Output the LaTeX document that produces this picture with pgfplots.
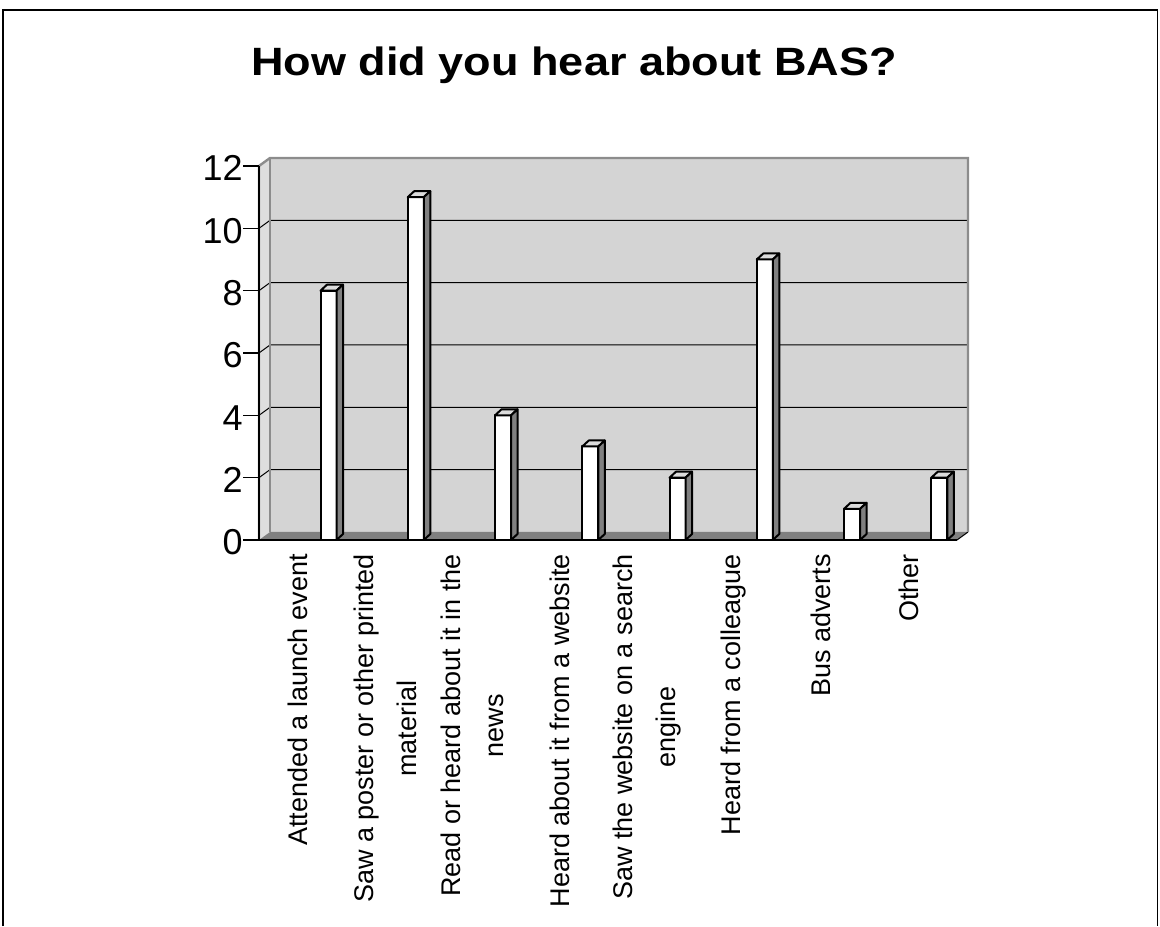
\documentclass[border=0pt]{standalone}
\usepackage{pgfplots}
\pgfplotsset{compat=1.18}
\usepackage{fontspec}
\setmainfont{Liberation Sans}

\definecolor{wallgray}{HTML}{D4D4D4}
\definecolor{sidewall}{HTML}{DEDEDE}
\definecolor{edgegray}{HTML}{8C8C8C}
\definecolor{floorgray}{HTML}{808080}
\definecolor{bartop}{HTML}{DCDCDC}
\definecolor{barside}{HTML}{808080}

\pgfdeclareplotmark{empty}{}

% depth offsets of the 3-D wall (px, 1px = 0.5bp)
\def\dX{5.5bp}
\def\dY{4bp}

\begin{document}
\begin{tikzpicture}[x=0.5bp,y=0.5bp]

% chart frame
\draw[line width=0.75bp] (3,0) -- (3,916) -- (1157.5,916) -- (1157.5,0);

% title
\node[anchor=base, font=\bfseries\fontsize{19.75bp}{22bp}\selectfont]
  at (574,850) {\scalebox{1.14}[1]{How did you hear about BAS?}};

\begin{axis}[
  set layers,
  at={(129.5bp,193bp)}, anchor=south west,
  scale only axis, width=349bp, height=187bp,
  xmin=0.5, xmax=8.5, ymin=0, ymax=12,
  clip=false,
  axis x line*=bottom, axis y line*=left,
  axis line style={black, line width=0.6bp},
  tick align=outside,
  major tick length=8bp, minor tick length=5bp,
  tick style={black, line width=0.6bp},
  ytick={0,2,...,12},
  yticklabel style={font=\fontsize{18bp}{18bp}\selectfont, anchor=east, inner sep=0pt, yshift=-1.2bp},
  /pgf/number format/assume math mode=true,
  xtick=\empty,
  minor xtick={0.5,1.5,...,8.5},
  extra x ticks={1,2,3,4,5,6,7,8},
  extra x tick labels={
    Attended a launch event,
    {Saw a poster or other printed\\material},
    {Read or heard about it in the\\news},
    Heard about it from a website,
    {Saw the website on a search\\engine},
    Heard from a colleague,
    Bus adverts,
    Other},
  extra x tick style={tick style={draw=none}},
  xticklabel style={font=\fontsize{13.5bp}{21.5bp}\selectfont, align=center,
    inner sep=0pt, yshift=1bp, xshift=-2.5bp, rotate=90, anchor=east},
]

\begin{pgfonlayer}{axis background}
  % back wall
  \fill[wallgray] ([shift={(\dX,\dY)}]axis cs:0.5,0) rectangle ([shift={(\dX,\dY)}]axis cs:8.5,12);
  % side wall
  \fill[sidewall] (axis cs:0.5,0) -- ([shift={(\dX,\dY)}]axis cs:0.5,0)
     -- ([shift={(\dX,\dY)}]axis cs:0.5,12) -- (axis cs:0.5,12) -- cycle;
  % gridlines on side and back wall
  \pgfplotsinvokeforeach{2,4,6,8,10}{
    \draw[black, line width=0.5bp] (axis cs:0.5,#1) -- ([shift={(\dX,\dY)}]axis cs:0.5,#1)
       -- ([shift={(\dX,\dY)}]axis cs:8.5,#1);
  }
  % floor
  \fill[floorgray] (axis cs:0.5,0) -- (axis cs:8.5,0) -- ([shift={(\dX,\dY)}]axis cs:8.5,0)
     -- ([shift={(\dX,\dY)}]axis cs:0.5,0) -- cycle;
  \draw[black, line width=0.5bp] (axis cs:8.5,0) -- ([shift={(\dX,\dY)}]axis cs:8.5,0);
  % wall edges
  \draw[edgegray, line width=1.2bp, line join=miter]
     (axis cs:0.5,0) -- (axis cs:0.5,12) -- ([shift={(\dX,\dY)}]axis cs:0.5,12)
     -- ([shift={(\dX,\dY)}]axis cs:8.5,12) -- ([shift={(\dX,\dY)}]axis cs:8.5,0);
  \draw[edgegray, line width=1.2bp] ([shift={(\dX,\dY)}]axis cs:0.5,0) -- ([shift={(\dX,\dY)}]axis cs:0.5,12);
\end{pgfonlayer}

% 3-D columns: front face, top and side drawn around each data point
\addplot[
  scatter, only marks, mark=empty,
  visualization depends on={rawy \as \barval},
  scatter/@pre marker code/.code={%
    \pgfmathsetmacro\barh{\barval*374/12}%
    \begin{scope}[x=0.5bp, y=0.5bp, line width=1bp, line join=round, draw=black]
      \filldraw[fill=white] (17.9,0) rectangle (33.9,-\barh);
      \filldraw[fill=bartop] (17.9,0) -- (24.4,6) -- (40.4,6) -- (33.9,0) -- cycle;
      \filldraw[fill=barside] (33.9,0) -- (40.4,6) -- (40.4,6-\barh) -- (33.9,-\barh) -- cycle;
    \end{scope}
  },
  scatter/@post marker code/.code={},
] coordinates {
  (1,8) (2,11) (3,4) (4,3) (5,2) (6,9) (7,1) (8,2)
};
\end{axis}

\pgfresetboundingbox
\useasboundingbox (0,0) rectangle (1160,926);
\end{tikzpicture}
\end{document}
